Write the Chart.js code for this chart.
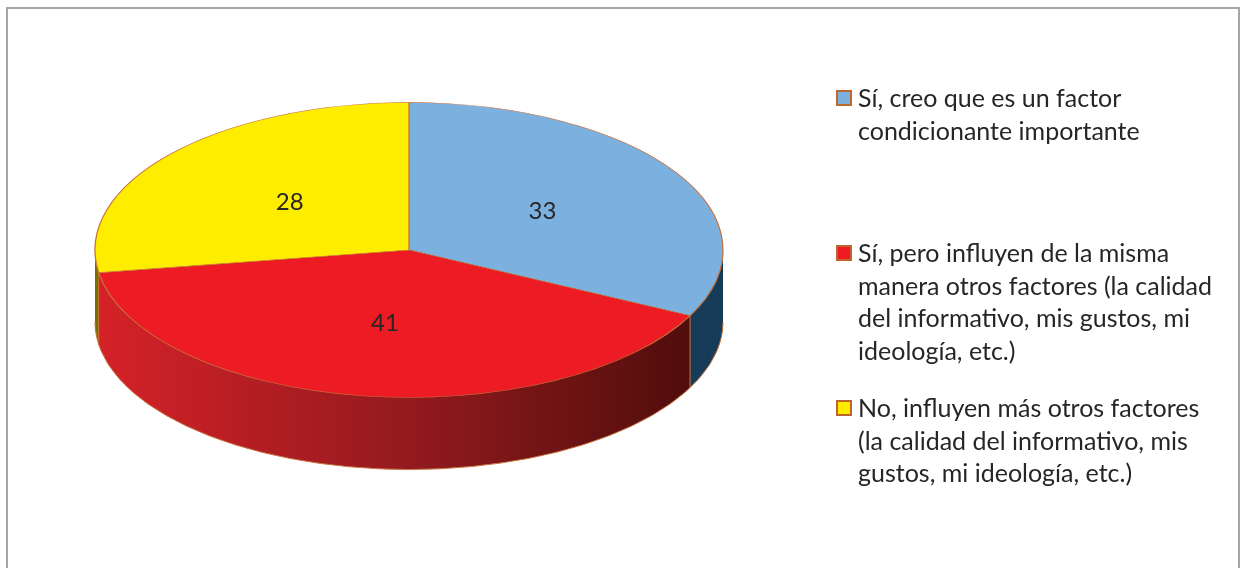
<!DOCTYPE html>
<html>
<head>
<meta charset="utf-8">
<script src="https://cdn.jsdelivr.net/npm/chart.js@4.4.1/dist/chart.umd.min.js"></script>
<style>
  html, body { margin: 0; padding: 0; background: #fff; overflow: hidden; }
  #wrap { position: relative; width: 1244px; height: 568px; }
  #marco { position: absolute; left: 6px; top: 7px; width: 1234px; height: 640px;
           border: 2px solid #a6a6a6; box-sizing: border-box; }
  #grafico { position: absolute; left: 0; top: 0; }
  .item { position: absolute; left: 858px; width: 360px; font-family: Lato, "Open Sans", sans-serif;
          font-size: 25px; line-height: 32.5px; color: #262626; }
  .caja { position: absolute; left: -22px; top: 8.5px; width: 16px; height: 16px;
          border: 2px solid #c0652d; box-sizing: border-box; }
</style>
</head>
<body>
<div id="wrap">
  <div id="marco"></div>
  <canvas id="grafico" width="1244" height="568"></canvas>
  <div id="leyenda"></div>
</div>
<script>
// Datos de la gráfica
const categorias = [
    'Sí, creo que es un factor condicionante importante',
    'Sí, pero influyen de la misma manera otros factores (la calidad del informativo, mis gustos, mi ideología, etc.)',
    'No, influyen más otros factores (la calidad del informativo, mis gustos, mi ideología, etc.)'
];
const valores = [33, 41, 28];
const coloresCara = ['#7cb1df', '#ed1c24', '#ffed00'];
const coloresLado = ['#163c59', null, '#7a7300']; // el rojo lleva degradado

// Posición vertical de cada entrada de la leyenda
const leyendaTop = [81, 236, 391];

// Leyenda en HTML
const leyenda = document.getElementById('leyenda');
categorias.forEach((txt, i) => {
    const div = document.createElement('div');
    div.className = 'item';
    div.style.top = leyendaTop[i] + 'px';
    div.innerHTML = '<span class="caja" style="background:' + coloresCara[i] + '"></span>' + txt;
    leyenda.appendChild(div);
});

// Plugin que aplana la tarta y le da grosor (efecto 3D)
const tarta3d = {
    id: 'tarta3d',
    beforeDatasetsDraw(chart, args, opts) {
        const ctx = chart.ctx;
        const meta = chart.getDatasetMeta(0);
        const a0 = meta.data[0];
        const cx = a0.x, cy = a0.y, r = a0.outerRadius;
        const sx = opts.rx / r, sy = opts.ry / r;

        // degradado del lateral rojo (coordenadas escaladas)
        ctx.save();
        ctx.translate(cx, cy);
        ctx.scale(sx, sy);
        const grad = ctx.createLinearGradient(-r, 0, r, 0);
        grad.addColorStop(0, '#d52228');
        grad.addColorStop(0.5, '#931a1e');
        grad.addColorStop(1, '#480c09');
        ctx.restore();

        // capas del lateral, de abajo hacia arriba
        for (let d = opts.depth; d >= 1; d--) {
            ctx.save();
            ctx.translate(cx, cy + d);
            ctx.scale(sx, sy);
            meta.data.forEach((arc, i) => {
                ctx.beginPath();
                ctx.moveTo(0, 0);
                ctx.arc(0, 0, r, arc.startAngle, arc.endAngle);
                ctx.closePath();
                ctx.fillStyle = coloresLado[i] || grad;
                ctx.fill();
            });
            ctx.restore();
        }

        // borde inferior del lateral
        ctx.save();
        ctx.translate(cx, cy + opts.depth);
        ctx.scale(sx, sy);
        ctx.beginPath();
        ctx.arc(0, 0, r, 0, Math.PI);
        ctx.restore();
        ctx.strokeStyle = opts.edge;
        ctx.lineWidth = 1;
        ctx.stroke();

        // aristas verticales donde cambia la porción en la parte delantera
        meta.data.forEach(arc => {
            const ang = arc.endAngle;
            if (Math.sin(ang) > 0.02 && Math.cos(ang) > -0.999) {
                const px = cx + opts.rx * Math.cos(ang);
                const py = cy + opts.ry * Math.sin(ang);
                ctx.beginPath();
                ctx.moveTo(px, py);
                ctx.lineTo(px, py + opts.depth);
                ctx.strokeStyle = opts.edge;
                ctx.stroke();
            }
        });

        // cara superior: se deja dibujar a Chart.js con la transformación
        ctx.save();
        ctx.translate(cx, cy);
        ctx.scale(sx, sy);
        ctx.translate(-cx, -cy);
    },
    afterDatasetsDraw(chart, args, opts) {
        const ctx = chart.ctx;
        ctx.restore();
        const meta = chart.getDatasetMeta(0);
        const a0 = meta.data[0];
        const cx = a0.x, cy = a0.y, r = a0.outerRadius;
        const sx = opts.rx / r, sy = opts.ry / r;
        ctx.save();
        ctx.font = '24px Lato, "Open Sans", sans-serif';
        ctx.fillStyle = '#262626';
        ctx.textAlign = 'center';
        ctx.textBaseline = 'middle';
        meta.data.forEach((arc, i) => {
            const p = arc.tooltipPosition();
            const x = cx + (p.x - cx) * sx;
            const y = cy + (p.y - cy) * sy;
            ctx.fillText(String(valores[i]), x, y);
        });
        ctx.restore();
    }
};

const chart = new Chart(document.getElementById('grafico'), {
    type: 'pie',
    data: {
        labels: categorias,
        datasets: [{
            data: valores,
            backgroundColor: coloresCara,
            borderColor: '#c8733e',
            borderWidth: 0.8,
            clip: false
        }]
    },
    options: {
        responsive: false,
        animation: false,
        events: [],
        layout: { padding: { left: 95, right: 521, top: 50, bottom: 118 } },
        plugins: {
            legend: { display: false },
            tooltip: { enabled: false },
            tarta3d: { rx: 314, ry: 147.5, depth: 72, edge: '#c8733e' }
        }
    },
    plugins: [tarta3d]
});
</script>
</body>
</html>
